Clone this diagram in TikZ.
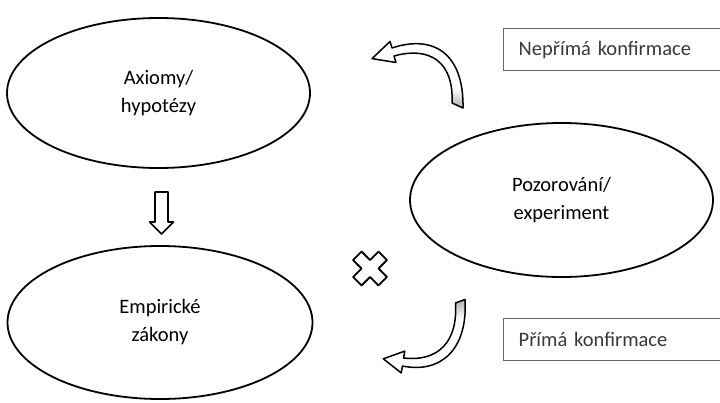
\documentclass[tikz,border=0pt]{standalone}
\usepackage{fontspec}
\setmainfont{Carlito}
\usetikzlibrary{shapes.geometric}
\pgfdeclareverticalshading{tailbottom}{100bp}{color(0bp)=(gray!55); color(25bp)=(gray!55); color(29bp)=(gray!45); color(38bp)=(white); color(100bp)=(white)}
\pgfdeclareverticalshading{tailtop}{100bp}{color(0bp)=(white); color(62bp)=(white); color(71bp)=(gray!45); color(75bp)=(gray!55); color(100bp)=(gray!55)}
\begin{document}
\begin{tikzpicture}[x=1pt,y=-1pt,
  oval/.style={ellipse, draw=black, line width=1.8pt, inner sep=0pt, align=center,
    font=\fontsize{20.5}{28}\selectfont},
  labelbox/.style={draw=black!60, line width=1.4pt, inner xsep=15pt, inner ysep=0pt,
    anchor=north west, minimum height=42pt, text width=200pt, align=left,
    font=\fontsize{20.5}{25}\selectfont, text=black!78},
  blockarrow/.style={draw=black, line width=1.6pt, fill=white, line join=round},
  curvedarrow/.style={draw=black, line width=1.5pt, line join=round, shade},
]
\useasboundingbox (0,0) rectangle (720,402);

% ellipses
\node[oval, minimum width=303pt, minimum height=150pt] (ax) at (158.5,93) {Axiomy/\\hypotézy};
\node[oval, minimum width=305pt, minimum height=153pt] (emp) at (160,322.5) {Empirické\\zákony};
\node[oval, minimum width=303pt, minimum height=154pt] (poz) at (561.5,200) {Pozorování/\\experiment};

% label boxes
\node[labelbox] (nk) at (503,28) {Nepřímá konfirmace};
\node[labelbox] (pk) at (503,318) {Přímá konfirmace};

% down block arrow between Axiomy and Empirické
\draw[blockarrow] (155,192) -- (168,192) -- (168,222) -- (173.5,222) -- (161.5,234)
  -- (149.5,222) -- (155,222) -- cycle;

% outlined cross
\begin{scope}[shift={(370,268.5)}, rotate=45]
  \draw[blockarrow, line width=1.8pt] (6,18) -- (6,6) -- (18,6) -- (18,-6) -- (6,-6) -- (6,-18)
    -- (-6,-18) -- (-6,-6) -- (-18,-6) -- (-18,6) -- (-6,6) -- (-6,18) -- cycle;
\end{scope}

% top curved arrow (indirect confirmation)
\draw[curvedarrow, shading=tailbottom]
  (452,103) -- (463,108) .. controls (464,54) and (434,34) .. (392,48)
  -- (390,41.5) -- (372,58.6) -- (396,62.5) -- (394,56)
  .. controls (430,46) and (454,62) .. (452,103) -- cycle;

% bottom curved arrow (direct confirmation)
\draw[curvedarrow, shading=tailtop]
  (455.5,303) -- (465,299.5) .. controls (468,348) and (442,374) .. (402.4,366)
  -- (401.2,372.9) -- (383.3,358.8) -- (404.8,351.1) -- (403.6,358)
  .. controls (438,362) and (458,342) .. (455.5,303) -- cycle;
\end{tikzpicture}
\end{document}
